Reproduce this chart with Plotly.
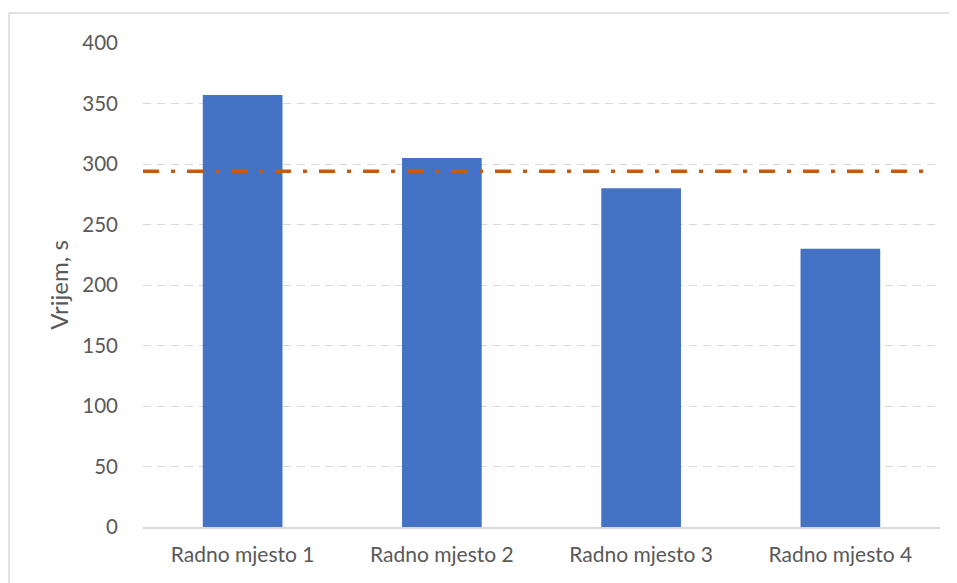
import plotly.graph_objects as go

categories = ["Radno mjesto 1", "Radno mjesto 2", "Radno mjesto 3", "Radno mjesto 4"]
values = [357, 305, 280, 230]
average_line = [294]
y_ticks = [0, 50, 100, 150, 200, 250, 300, 350, 400]

fig = go.Figure()
fig.add_trace(go.Bar(x=categories, y=values, marker=dict(color="#4472C4", line=dict(width=0)), showlegend=False))

fig.add_shape(type="line", xref="paper", yref="y", x0=0, x1=0.979, y0=average_line[0], y1=average_line[0],
              line=dict(color="#C55A11", width=3.5, dash="16px,12px,4px,12px"), layer="above")

# outer frame
fig.add_shape(type="rect", xref="paper", yref="paper", x0=-0.168, x1=1.05, y0=-0.2, y1=1.062,
              line=dict(color="#D9D9D9", width=1.5), fillcolor="rgba(0,0,0,0)", layer="below")

font_family = "Lato, 'Open Sans', sans-serif"
fig.update_layout(
    width=949, height=575,
    margin=dict(l=135, r=17, t=35, b=56),
    paper_bgcolor="white", plot_bgcolor="white",
    bargap=0.6,
    font=dict(family=font_family, color="#595959", size=18),
    xaxis=dict(showgrid=False, showline=True, linecolor="#D9D9D9", linewidth=1.5, ticks="",
               tickfont=dict(size=21, color="#595959"), ticklabelstandoff=8),
    yaxis=dict(range=[0, 400], tickvals=y_ticks, showgrid=True, gridcolor="#D9D9D9", gridwidth=1.2,
               griddash="8px,6px", zeroline=False, showline=False, ticks="",
               tickfont=dict(size=20.5, color="#595959"), ticklabelstandoff=24,
               title=dict(text="Vrijem, s", font=dict(size=24, color="#595959"), standoff=6)),
)

fig.write_html("out.html")
